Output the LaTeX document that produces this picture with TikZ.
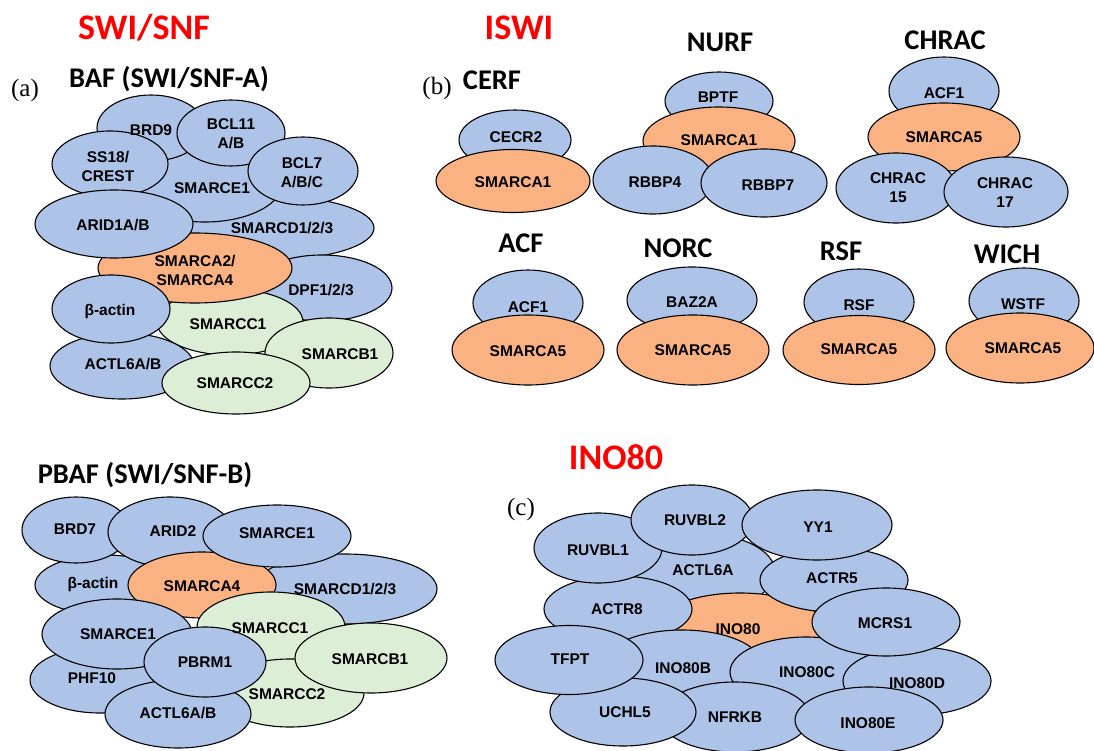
\documentclass[tikz,border=0pt]{standalone}
\usepackage{fontspec}
\newfontfamily\arialf{Liberation Sans}
\newfontfamily\calf{Carlito}
\newfontfamily\serf{Liberation Serif}
\definecolor{cblue}{HTML}{AEC3E8}
\definecolor{corange}{HTML}{FAB282}
\definecolor{cgreen}{HTML}{DDEED6}
\tikzset{
  shp/.style={draw=black, line width=1.1pt},
  bl/.style={shp, fill=cblue},
  og/.style={shp, fill=corange},
  gr/.style={shp, fill=cgreen},
  lbl/.style={font=\arialf\bfseries\fontsize{15.5}{19}\selectfont, inner sep=0pt, text height=11pt, text depth=0pt},
  lblm/.style={font=\arialf\bfseries\fontsize{15.5}{19}\selectfont, inner sep=0pt, align=center},
  ttl/.style={font=\calf\bfseries\fontsize{28.5}{30}\selectfont, anchor=base, inner sep=0pt},
  big/.style={font=\calf\bfseries\fontsize{36}{40}\selectfont, text=red, anchor=base, inner sep=0pt},
  panel/.style={font=\serf\fontsize{25}{28}\selectfont, anchor=base, inner sep=0pt},
}
\newcommand{\blob}[6]{\coordinate (#1) at (#2,#3); \draw[#6] (#1) ellipse [x radius=#4pt, y radius=#5pt];}
\newcommand{\lb}[4]{\node[lbl] (#1) at (#2,#3) {#4};}
\newcommand{\lbm}[4]{\node[lblm] (#1) at (#2,#3) {#4};}
\begin{document}
\begin{tikzpicture}[x=1pt,y=-1pt]
\useasboundingbox (0,0) rectangle (1094,751);
% ---------- titles ----------
\node[big] (swisnf) at (144,39.5) {SWI/SNF};
\node[big] (iswi) at (519,39.5) {ISWI};
\node[big] (ino80t) at (616,469) {INO80};
\node[ttl] (baf) at (169,87.5) {BAF (SWI/SNF-A)};
\node[ttl] (pbaf) at (145,483) {PBAF (SWI/SNF-B)};
\node[ttl] (cerf) at (492,90) {CERF};
\node[ttl] (nurf) at (720,52) {NURF};
\node[ttl] (chrac) at (945,50) {CHRAC};
\node[ttl] (acf) at (521,253) {ACF};
\node[ttl] (norc) at (678,258) {NORC};
\node[ttl] (rsf) at (841,260) {RSF};
\node[ttl] (wich) at (1007,263) {WICH};
\node[panel] (pa) at (25,97) {(a)};
\node[panel] (pb) at (437,95) {(b)};
\node[panel] (pc) at (521,515) {(c)};
% ---------- BAF ----------
\blob{a1}{270}{228}{104}{32}{bl}
\blob{a2}{322}{288}{70}{33}{bl}
\blob{a3}{230}{322}{73}{33}{gr}
\blob{a4}{329}{353}{64}{35}{gr}
\blob{a5}{205}{182}{78}{40}{bl}
\blob{a6}{151}{128}{54}{33}{bl}
\blob{a7}{231}{133}{54}{33}{bl}
\blob{a8}{110}{164}{58}{33}{bl}
\blob{a9}{303}{171}{55}{34}{bl}
\blob{a10}{195}{268}{97}{35}{og}
\blob{a11}{114}{224}{79}{34}{bl}
\blob{a12}{122}{366}{72}{33}{bl}
\blob{a13}{111}{309}{59}{34}{bl}
\blob{a14}{236}{383}{74}{31}{gr}
\lb{ta6}{151}{130}{BRD9}
\lbm{ta7}{231}{133.5}{BCL11\\A/B}
\lbm{ta8}{108}{166.5}{SS18/\\CREST}
\lbm{ta9}{302}{173}{BCL7\\A/B/C}
\lb{ta5}{212}{188}{SMARCE1}
\lb{ta11}{113}{225}{ARID1A/B}
\lb{ta1}{282}{228}{SMARCD1/2/3}
\lbm{ta10}{195}{270}{SMARCA2/\\SMARCA4}
\lb{ta2}{321}{290}{DPF1/2/3}
\lb{ta13}{110}{310}{β-actin}
\lb{ta3}{228}{324}{SMARCC1}
\lb{ta12}{123}{364}{ACTL6A/B}
\lb{ta4}{340}{354}{SMARCB1}
\lb{ta14}{235}{383}{SMARCC2}
% ---------- PBAF ----------
\blob{p1}{105}{585}{70}{30}{bl}
\blob{p2}{76}{530}{54}{33}{bl}
\blob{p3}{170}{532}{62}{35}{bl}
\blob{p4}{345}{589}{92}{35}{bl}
\blob{p5}{202}{585}{74}{33}{og}
\blob{p6}{277}{536}{74}{31}{bl}
\blob{p7}{271}{627}{74}{35}{gr}
\blob{p8}{100}{680}{70}{33}{bl}
\blob{p9}{117}{634}{75}{35}{bl}
\blob{p10}{290}{693}{74}{34}{gr}
\blob{p11}{178}{714}{73}{34}{bl}
\blob{p12}{205}{662}{61}{35}{bl}
\blob{p13}{371}{658}{76}{35}{gr}
\lb{tp2}{75}{529}{BRD7}
\lb{tp3}{173}{531}{ARID2}
\lb{tp6}{277}{533}{SMARCE1}
\lb{tp1}{93}{583}{β-actin}
\lb{tp5}{202}{586}{SMARCA4}
\lb{tp4}{345}{589}{SMARCD1/2/3}
\lb{tp7}{270}{628}{SMARCC1}
\lb{tp9}{118}{634}{SMARCE1}
\lb{tp12}{205}{662}{PBRM1}
\lb{tp13}{370}{659}{SMARCB1}
\lb{tp8}{92}{678}{PHF10}
\lb{tp10}{287}{694}{SMARCC2}
\lb{tp11}{178}{713}{ACTL6A/B}
% ---------- ISWI ----------
\blob{b1}{515}{140}{56}{30}{bl}
\blob{b2}{513}{181}{77}{31.5}{og}
\lb{tb1}{516}{137}{CECR2}
\lb{tb2}{513}{182}{SMARCA1}
\blob{n1}{719}{101}{54}{29}{bl}
\blob{n2}{719}{141}{76}{34}{og}
\blob{n3}{653}{180}{60}{34}{bl}
\blob{n4}{764}{183}{63}{34}{bl}
\lb{tn1}{718}{97}{BPTF}
\lb{tn2}{719}{140}{SMARCA1}
\lb{tn3}{655}{182}{RBBP4}
\lb{tn4}{768}{185}{RBBP7}
\blob{c1}{944}{91}{55}{34}{bl}
\blob{c2}{944}{137}{76}{34}{og}
\blob{c3}{896}{188}{60}{35}{bl}
\blob{c4}{1006}{192}{62}{35}{bl}
\lb{tc1}{944}{93}{ACF1}
\lb{tc2}{944}{137}{SMARCA5}
\lbm{tc3}{898}{187.5}{CHRAC\\15}
\lbm{tc4}{1005}{192.5}{CHRAC\\17}
\blob{d1}{528}{303}{55}{33}{bl}
\blob{d2}{528}{350}{76}{35}{og}
\lb{td1}{528}{307}{ACF1}
\lb{td2}{528}{351}{SMARCA5}
\blob{e1}{692}{300}{65}{33}{bl}
\blob{e2}{693}{350}{76}{35}{og}
\lb{te1}{692}{302}{BAZ2A}
\lb{te2}{693}{350}{SMARCA5}
\blob{f1}{859}{302}{55}{33}{bl}
\blob{f2}{859}{350}{76}{34.5}{og}
\lb{tf1}{859}{305}{RSF}
\lb{tf2}{859}{349}{SMARCA5}
\blob{g1}{1024}{301}{55}{33}{bl}
\blob{g2}{1020}{348}{74}{35}{og}
\lb{tg1}{1023}{304}{WSTF}
\lb{tg2}{1023}{348}{SMARCA5}
% ---------- INO80 ----------
\blob{i1}{703}{572}{72}{38}{bl}
\blob{i2}{740}{628}{85}{35}{og}
\blob{i3}{618}{609}{74}{33}{bl}
\blob{i4}{598}{548}{64}{35}{bl}
\blob{i5}{692}{520}{61}{35}{bl}
\blob{i6}{834}{580}{74}{32}{bl}
\blob{i7}{817}{525}{75}{35}{bl}
\blob{i8}{682}{665}{80}{35}{bl}
\blob{i9}{806}{672}{76}{35}{bl}
\blob{i10}{735}{717}{75}{35}{bl}
\blob{i11}{623}{712}{73}{34}{bl}
\blob{i12}{569}{660}{74}{34.5}{bl}
\blob{i13}{917}{681}{74}{34}{bl}
\blob{i14}{886}{622}{74}{34}{bl}
\blob{i15}{869}{720}{74}{33}{bl}
\lb{ti5}{695}{520}{RUVBL2}
\lb{ti4}{598}{550}{RUVBL1}
\lb{ti7}{818}{527}{YY1}
\lb{ti1}{703}{570}{ACTL6A}
\lb{ti6}{832}{578}{ACTR5}
\lb{ti3}{617}{609}{ACTR8}
\lb{ti2}{738}{629}{INO80}
\lb{ti14}{885}{623}{MCRS1}
\lb{ti12}{570}{659}{TFPT}
\lb{ti8}{683}{668}{INO80B}
\lb{ti9}{807}{672}{INO80C}
\lb{ti13}{917}{683}{INO80D}
\lb{ti15}{868}{723}{INO80E}
\lb{ti11}{625}{712}{UCHL5}
\lb{ti10}{735}{717}{NFRKB}
\end{tikzpicture}
\end{document}
